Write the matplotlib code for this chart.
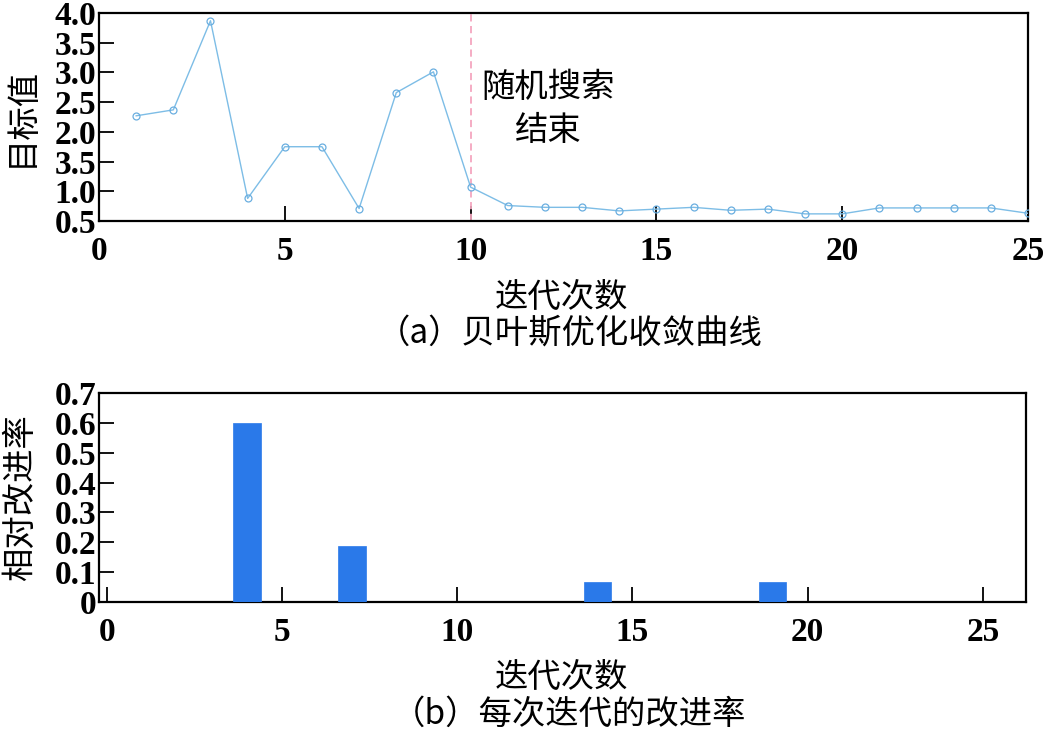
import matplotlib
matplotlib.use("Agg")
import matplotlib.pyplot as plt

# ---------------- data ----------------
iterations = list(range(1, 26))
objective = [2.27, 2.37, 3.87, 0.88, 1.75, 1.75, 0.71, 2.66, 3.01, 1.07,
             0.76, 0.73, 0.73, 0.67, 0.70, 0.73, 0.68, 0.70, 0.62, 0.62,
             0.72, 0.72, 0.72, 0.72, 0.63]
random_search_end = 10

top_xticks = [0, 5, 10, 15, 20, 25]
top_yticks = [0.5, 1.0, 1.5, 2.0, 2.5, 3.0, 3.5, 4.0]
top_yticklabels = ["0.5", "1.0", "3.5", "2.0", "2.5", "3.0", "3.5", "4.0"]

bar_iters = [4, 7, 14, 19]
bar_rates = [0.60, 0.186, 0.067, 0.066]

bot_xticks = [0, 5, 10, 15, 20, 25]
bot_yticks = [0, 0.1, 0.2, 0.3, 0.4, 0.5, 0.6, 0.7]
bot_yticklabels = ["0", "0.1", "0.2", "0.3", "0.4", "0.5", "0.6", "0.7"]

xlabel = "迭代次数"
top_ylabel = "目标值"
bot_ylabel = "相对改进率"
caption_a = "（a）贝叶斯优化收敛曲线"
caption_b = "（b）每次迭代的改进率"
annot = "随机搜索\n结束"

# ---------------- style ----------------
CJK = ["Noto Sans CJK SC", "DejaVu Sans"]
NUM = ["Liberation Serif", "DejaVu Serif"]
plt.rcParams["font.family"] = CJK

W, H = 1044, 739
fig = plt.figure(figsize=(W / 100, H / 100), dpi=100)

def ax_rect(l, t, r, b):
    return [l / W, 1 - b / H, (r - l) / W, (b - t) / H]

def style_axes(ax):
    for s in ax.spines.values():
        s.set_linewidth(1.6)
        s.set_color("black")
    ax.tick_params(direction="in", length=11, width=1.3,
                   top=False, right=False)
    ax.tick_params(axis="x", pad=11)
    ax.tick_params(axis="y", pad=2)
    for lab in ax.get_xticklabels() + ax.get_yticklabels():
        lab.set_fontfamily(NUM)
        lab.set_fontweight("bold")
        lab.set_fontsize(24)

# ---------- top chart ----------
ax1 = fig.add_axes(ax_rect(99, 13, 1028, 221))
ax1.plot(iterations, objective, color="#7dbde6", lw=1.0, marker="o",
         markersize=5, markerfacecolor="none", markeredgecolor="#6aaee0",
         markeredgewidth=0.9, zorder=3)
ax1.axvline(random_search_end, color="#f4a6bf", lw=1.3, ls=(0, (4, 2.5)), zorder=2)
ax1.set_xlim(0, 25)
ax1.set_ylim(0.5, 4.0)
ax1.set_xticks(top_xticks)
ax1.set_yticks(top_yticks)
ax1.set_yticklabels(top_yticklabels)
style_axes(ax1)
ax1.text(12.08, 2.38, annot, fontsize=24, ha="center", va="center",
         multialignment="center", linespacing=1.3, family=CJK)

# ---------- bottom chart ----------
ax2 = fig.add_axes(ax_rect(99, 393, 1026, 602))
ax2.bar(bar_iters, bar_rates, width=0.78, color="#2a79e9", edgecolor="#2a79e9",
        linewidth=0.5, zorder=3)
ax2.set_xlim(-0.22, 26.23)
ax2.set_ylim(0, 0.7)
ax2.set_xticks(bot_xticks)
ax2.set_yticks(bot_yticks)
ax2.set_yticklabels(bot_yticklabels)
style_axes(ax2)

# ---------- labels ----------
def ftext(x, y, s, **kw):
    fig.text(x / W, 1 - y / H, s, ha="center", va="center", fontsize=24,
             family=CJK, **kw)

ftext(561, 297, xlabel)
ftext(570, 334, caption_a)
ftext(21, 117, top_ylabel, rotation=90)
ftext(561, 677, xlabel)
ftext(569, 714, caption_b)
ftext(20, 498, bot_ylabel, rotation=90)

fig.savefig("out.png", dpi=100)
